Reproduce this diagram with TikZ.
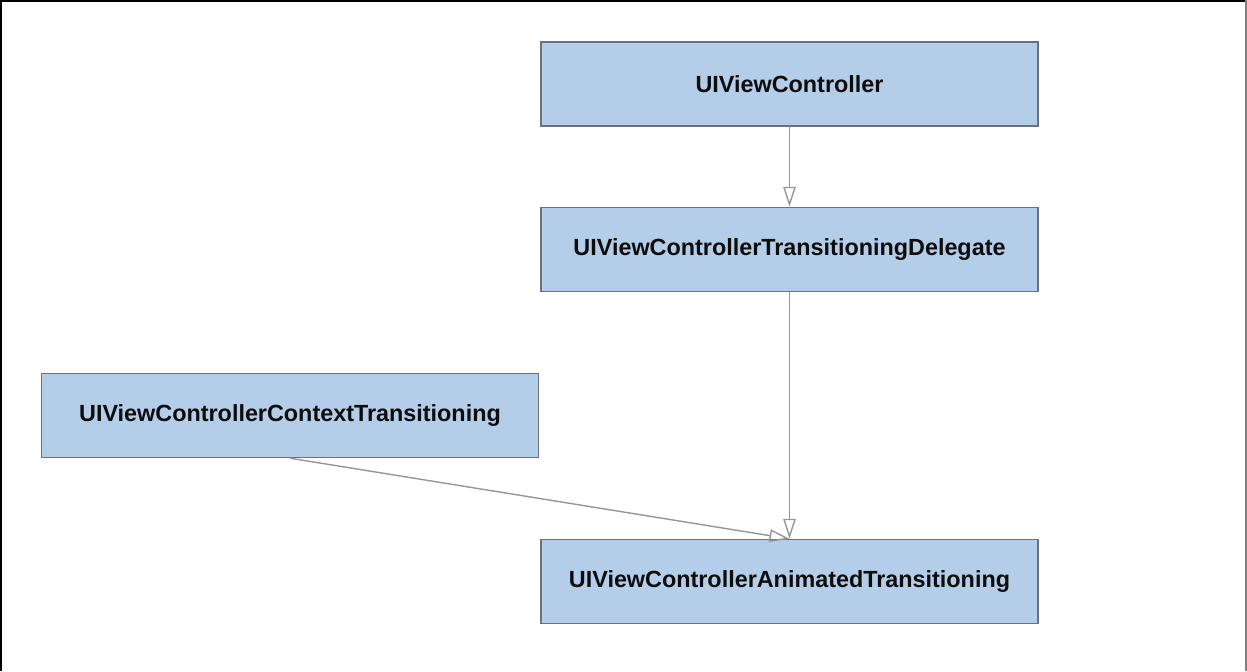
\documentclass[tikz,border=0pt]{standalone}
\usepackage{fontspec}
\setmainfont{Liberation Sans}
\usepackage{xcolor}
\usepackage{tikz}
\usetikzlibrary{arrows.meta,positioning}

\definecolor{boxfill}{RGB}{180,205,232}
\definecolor{boxline}{RGB}{105,115,128}
\definecolor{linkgray}{RGB}{150,150,150}

\begin{document}
\begin{tikzpicture}[
  classbox/.style={draw=boxline,line width=0.8pt,rectangle,fill=boxfill,minimum width=9.94cm,minimum height=1.68cm,font=\fontsize{13.3}{16}\selectfont\bfseries,text=black!95},
  link/.style={draw=linkgray,line width=0.8pt,-{Triangle[open,length=0.4cm,width=0.25cm]}}
]
\useasboundingbox (0,0) rectangle (24.94,13.42);

% Frame
\draw[line width=2.6pt] (0,0) -- (0,13.42) -- (24.94,13.42);
\draw[gray,line width=0.8pt] (24.92,13.42) -- (24.92,0);

% Controller
\node[classbox] (vc) at (15.79,11.74) {UIViewController};

% Delegate
\node[classbox] (delegate) at (15.79,8.43) {UIViewControllerTransitioningDelegate};

% Context
\node[classbox] (context) at (5.8,5.11) {UIViewControllerContextTransitioning};

% Animator
\node[classbox] (animated) at (15.79,1.79) {UIViewControllerAnimatedTransitioning};

% Arrows
\draw[link] (vc) -- (delegate);
\draw[link] (delegate) -- (animated);
\draw[link] (context.south) -- (animated.north);

\end{tikzpicture}
\end{document}
